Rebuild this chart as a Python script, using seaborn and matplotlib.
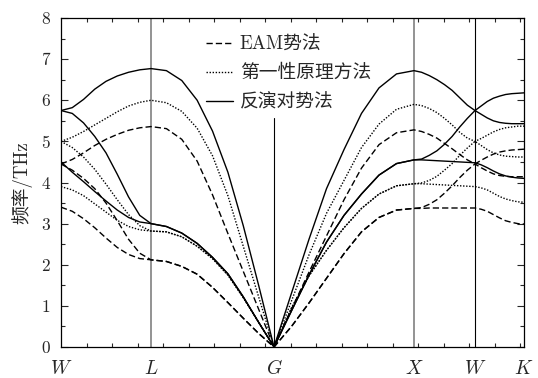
import numpy as np
import pandas as pd
import matplotlib
matplotlib.use("Agg")
import matplotlib.pyplot as plt
from matplotlib.lines import Line2D
import seaborn as sns

# ---- data ----
k_labels = ["W", "L", "G", "X", "W", "K"]
k_pos = [0.0, 0.667, 1.578, 2.615, 3.067, 3.43]
methods = ["EAM势法", "第一性原理方法", "反演对势法"]

# 反演对势法 (solid)
rev_1 = [5.75, 5.82, 6.02, 6.27, 6.46, 6.59, 6.68, 6.74, 6.77,
         6.72, 6.48, 6.0, 5.25, 4.25, 2.95, 1.5, 0.0,
         1.31, 2.62, 3.85, 4.8, 5.68, 6.3, 6.64, 6.72,
         6.68, 6.6, 6.5, 6.38, 6.24, 6.06, 5.88, 5.75,
         5.86, 5.97, 6.05, 6.1, 6.14, 6.16, 6.17, 6.18]
rev_2 = [5.75, 5.68, 5.45, 5.12, 4.72, 4.2, 3.65, 3.2, 3.0,
         2.93, 2.77, 2.52, 2.18, 1.78, 1.22, 0.6, 0.0,
         0.88, 1.75, 2.55, 3.2, 3.72, 4.18, 4.46, 4.55,
         4.57, 4.66, 4.77, 4.93, 5.12, 5.35, 5.56, 5.75,
         5.66, 5.57, 5.5, 5.46, 5.44, 5.43, 5.43, 5.43]
rev_3 = [4.5, 4.25, 4.02, 3.78, 3.55, 3.33, 3.15, 3.04, 3.0,
         2.93, 2.77, 2.52, 2.18, 1.78, 1.22, 0.6, 0.0,
         0.88, 1.75, 2.55, 3.2, 3.72, 4.18, 4.46, 4.55,
         4.55, 4.54, 4.53, 4.52, 4.51, 4.5, 4.49, 4.48,
         4.43, 4.36, 4.28, 4.21, 4.16, 4.13, 4.11, 4.1]

# 第一性原理方法 (dotted)
fp_1 = [5.0, 5.1, 5.24, 5.4, 5.56, 5.72, 5.86, 5.95, 6.0,
        5.94, 5.73, 5.32, 4.65, 3.68, 2.45, 1.22, 0.0,
        1.12, 2.24, 3.25, 4.05, 4.85, 5.42, 5.78, 5.9,
        5.87, 5.8, 5.7, 5.56, 5.4, 5.22, 5.08, 5.0,
        5.07, 5.15, 5.23, 5.29, 5.33, 5.35, 5.37, 5.37]
fp_2 = [5.0, 4.85, 4.62, 4.32, 3.96, 3.58, 3.22, 2.95, 2.82,
        2.8, 2.68, 2.45, 2.15, 1.75, 1.2, 0.6, 0.0,
        0.95, 1.73, 2.35, 2.9, 3.37, 3.72, 3.92, 3.97,
        3.99, 4.05, 4.15, 4.3, 4.46, 4.66, 4.84, 5.0,
        4.9, 4.8, 4.72, 4.67, 4.64, 4.63, 4.62, 4.62]
fp_3 = [3.9, 3.82, 3.68, 3.48, 3.28, 3.08, 2.93, 2.85, 2.82,
        2.8, 2.68, 2.45, 2.15, 1.75, 1.2, 0.6, 0.0,
        0.95, 1.73, 2.35, 2.9, 3.37, 3.72, 3.92, 3.97,
        3.97, 3.96, 3.95, 3.94, 3.93, 3.92, 3.91, 3.9,
        3.87, 3.82, 3.74, 3.66, 3.6, 3.56, 3.53, 3.52]

# EAM势法 (dashed)
eam_1 = [4.45, 4.56, 4.72, 4.9, 5.05, 5.17, 5.27, 5.33, 5.36,
         5.31, 5.05, 4.52, 3.7, 2.76, 1.84, 0.92, 0.0,
         0.92, 1.82, 2.7, 3.58, 4.35, 4.92, 5.21, 5.28,
         5.24, 5.17, 5.08, 4.95, 4.82, 4.68, 4.55, 4.45,
         4.54, 4.62, 4.69, 4.74, 4.77, 4.79, 4.8, 4.81]
eam_2 = [4.45, 4.3, 4.1, 3.85, 3.5, 3.07, 2.62, 2.28, 2.12,
         2.08, 1.96, 1.77, 1.45, 1.08, 0.7, 0.33, 0.0,
         0.5, 1.07, 1.67, 2.27, 2.8, 3.15, 3.33, 3.37,
         3.39, 3.47, 3.58, 3.74, 3.92, 4.12, 4.3, 4.45,
         4.36, 4.28, 4.21, 4.17, 4.15, 4.14, 4.14, 4.14]
eam_3 = [3.4, 3.3, 3.12, 2.9, 2.65, 2.42, 2.25, 2.15, 2.12,
         2.08, 1.96, 1.77, 1.45, 1.08, 0.7, 0.33, 0.0,
         0.5, 1.07, 1.67, 2.27, 2.8, 3.15, 3.33, 3.37,
         3.37, 3.38, 3.38, 3.38, 3.38, 3.38, 3.38, 3.38,
         3.35, 3.3, 3.22, 3.14, 3.07, 3.03, 3.0, 2.99]

# ---- sample positions along the k-path (8 steps per segment) ----
xs = [k_pos[0]]
for a, b in zip(k_pos[:-1], k_pos[1:]):
    xs.extend(np.linspace(a, b, 9)[1:])
xs = np.array(xs)

branches = {
    methods[0]: [eam_1, eam_2, eam_3],
    methods[1]: [fp_1, fp_2, fp_3],
    methods[2]: [rev_1, rev_2, rev_3],
}
styles = {methods[0]: (0, (4.5, 2.2)), methods[1]: (0, (1.0, 1.2)), methods[2]: "-"}

rows = []
for m, brs in branches.items():
    for i, br in enumerate(brs):
        for x, y in zip(xs, br):
            rows.append({"method": m, "branch": f"{m}_{i}", "k": x, "freq": y})
df = pd.DataFrame(rows)

sns.set_theme(style="white")
plt.rcParams["font.family"] = ["cmr10", "Noto Sans CJK SC"]
plt.rcParams["mathtext.fontset"] = "cm"
plt.rcParams["axes.unicode_minus"] = False
plt.rcParams["axes.formatter.use_mathtext"] = True

fig = plt.figure(figsize=(5.38, 3.78), dpi=100)
ax = fig.add_axes([61 / 538, 1 - 347 / 378, 463 / 538, 329 / 378])

# vertical symmetry-point lines
ax.axvline(k_pos[1], color="#808080", lw=1.2, zorder=1)
ax.axvline(k_pos[3], color="#808080", lw=1.2, zorder=1)
ax.axvline(k_pos[4], color="black", lw=0.8, zorder=1)
ax.axvline(k_pos[2], color="black", lw=0.8, ymax=5.57 / 8, zorder=1)

for m in methods:
    sub = df[df["method"] == m]
    for b, g in sub.groupby("branch"):
        sns.lineplot(data=g, x="k", y="freq", ax=ax, color="black", lw=1.0,
                     linestyle=styles[m], sort=False, estimator=None, legend=False, zorder=3)

ax.set_xlim(k_pos[0], k_pos[-1])
ax.set_ylim(0, 8)
ax.set_xticks(k_pos)
ax.set_xticklabels([f"${s}$" for s in k_labels], fontsize=14)
ax.set_yticks(range(0, 9))
ax.set_yticklabels([str(v) for v in range(0, 9)], fontsize=12.5)
ax.set_yticks(np.arange(0, 8.01, 0.5), minor=True)
ax.set_xticks(np.arange(0, 3.43, 0.189), minor=True)
ax.tick_params(axis="y", which="major", direction="in", length=5, width=0.8,
               left=True, right=True, pad=8)
ax.tick_params(axis="y", which="minor", direction="in", length=3, width=0.8,
               left=True, right=True)
ax.tick_params(axis="x", which="major", length=0, pad=9)
ax.tick_params(axis="x", which="minor", direction="in", length=3, width=0.8,
               bottom=True, top=True)
for s in ax.spines.values():
    s.set_color("black")
    s.set_linewidth(0.9)
ax.set_xlabel("")
ax.set_ylabel("频率/THz", fontsize=13.5, labelpad=6)

handles = [Line2D([0], [0], color="black", lw=1.0, linestyle=styles[m]) for m in methods]
leg = ax.legend(handles, methods, loc="upper left", bbox_to_anchor=(0.305, 0.958),
                frameon=False, fontsize=13.5, handlelength=1.45, handletextpad=0.35,
                labelspacing=0.58, borderpad=0.2, borderaxespad=0.0)

fig.savefig("out.png", dpi=100)
